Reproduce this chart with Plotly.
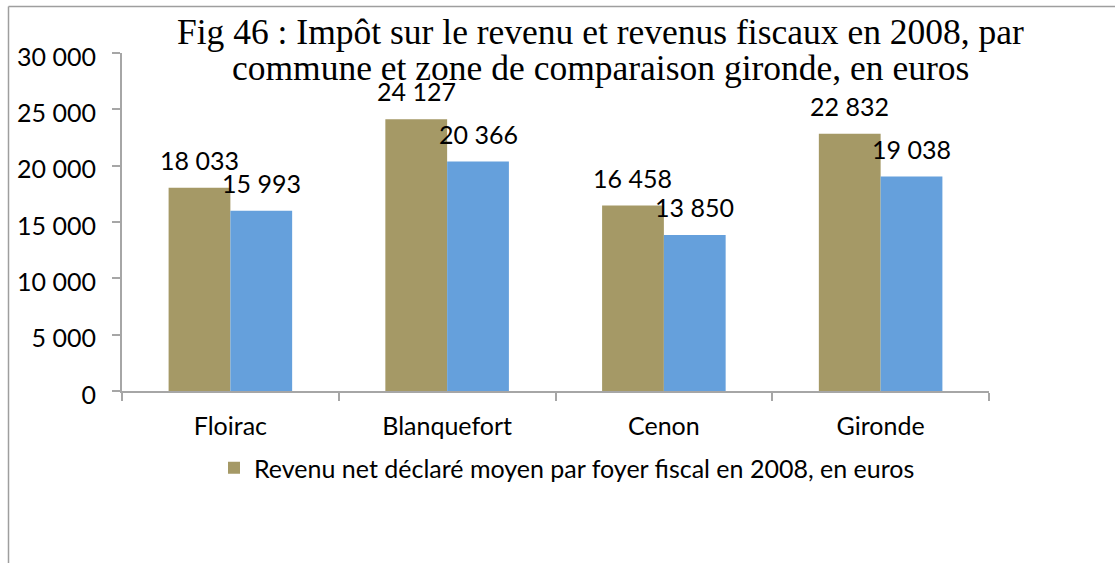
import plotly.graph_objects as go

# Data
communes = ["Floirac", "Blanquefort", "Cenon", "Gironde"]
revenu_net = [18033, 24127, 16458, 22832]
revenu_fiscal = [15993, 20366, 13850, 19038]
series_names = [
    "Revenu net déclaré moyen par foyer fiscal en 2008, en euros",
    "Revenu fiscal",
]
title_lines = [
    "Fig 46 : Impôt sur le revenu et revenus fiscaux en 2008, par",
    "commune et zone de comparaison gironde, en euros",
]
y_ticks = [0, 5000, 10000, 15000, 20000, 25000, 30000]

OLIVE = "#A59966"
BLUE = "#65A0DC"
AXIS_GREY = "#A6A6A6"
SANS = "Lato"
SERIF = "Liberation Serif"
FS = 25

W, H = 1115, 563
L, R, T, B = 122, 126, 53, 172
PW, PH = W - L - R, H - T - B


def fmt(v):
    return f"{v:,}".replace(",", " ")


fig = go.Figure()
fig.add_trace(go.Bar(x=communes, y=revenu_net, name=series_names[0],
                     marker=dict(color=OLIVE, line=dict(width=0))))
fig.add_trace(go.Bar(x=communes, y=revenu_fiscal, name=series_names[1],
                     marker=dict(color=BLUE, line=dict(width=0)),
                     showlegend=False))

# value labels above each bar
bar_px = PW / len(communes) * 0.57 / 2
for vals, shift in ((revenu_net, -bar_px / 2), (revenu_fiscal, bar_px / 2)):
    for c, v in zip(communes, vals):
        fig.add_annotation(x=c, y=v, text=fmt(v), showarrow=False,
                           xshift=shift, yshift=11, yanchor="bottom",
                           font=dict(family=SANS, size=FS, color="black"))

# title
for i, line in enumerate(title_lines):
    fig.add_annotation(xref="paper", yref="paper",
                       x=(600 - L) / PW, y=1 + (T - (32 + 36 * i)) / PH,
                       text=line, showarrow=False, xanchor="center",
                       yanchor="middle",
                       font=dict(family=SERIF, size=35.5, color="black"))

# outer frame (left and top edges)
fx0 = (8.5 - L) / PW
fy1 = 1 + (T - 6.5) / PH
fig.add_shape(type="line", xref="paper", yref="paper", x0=fx0, x1=fx0,
              y0=-B / PH - 0.01, y1=fy1, line=dict(color="#9E9E9E", width=1.5))
fig.add_shape(type="line", xref="paper", yref="paper", x0=fx0, x1=(W - L) / PW + 0.01,
              y0=fy1, y1=fy1, line=dict(color="#9E9E9E", width=1.5))

fig.update_layout(
    width=W, height=H,
    margin=dict(l=L, r=R, t=T, b=B, autoexpand=False),
    paper_bgcolor="white", plot_bgcolor="white",
    separators=", ",
    barmode="group", bargap=0.43, bargroupgap=0,
    font=dict(family=SANS, size=FS, color="black"),
    showlegend=True,
    legend=dict(orientation="h", x=(214 - L) / PW, y=(391 - 445) / PH,
                xanchor="left", yanchor="top",
                font=dict(family=SANS, size=FS, color="black")),
)
fig.update_xaxes(type="category", showline=True, linecolor=AXIS_GREY, linewidth=2,
                 ticks="outside", tickson="boundaries", ticklen=8,
                 tickcolor=AXIS_GREY, tickwidth=2, showgrid=False,
                 ticklabelstandoff=12)
fig.update_yaxes(range=[0, 30000], tickvals=y_ticks, tickformat=",d",
                 showline=True, linecolor=AXIS_GREY, linewidth=2,
                 ticks="outside", ticklen=8, tickcolor=AXIS_GREY, tickwidth=2,
                 showgrid=False, zeroline=False, ticklabelstandoff=11,
                 ticklabelshift=4)

fig.write_html("out.html")
